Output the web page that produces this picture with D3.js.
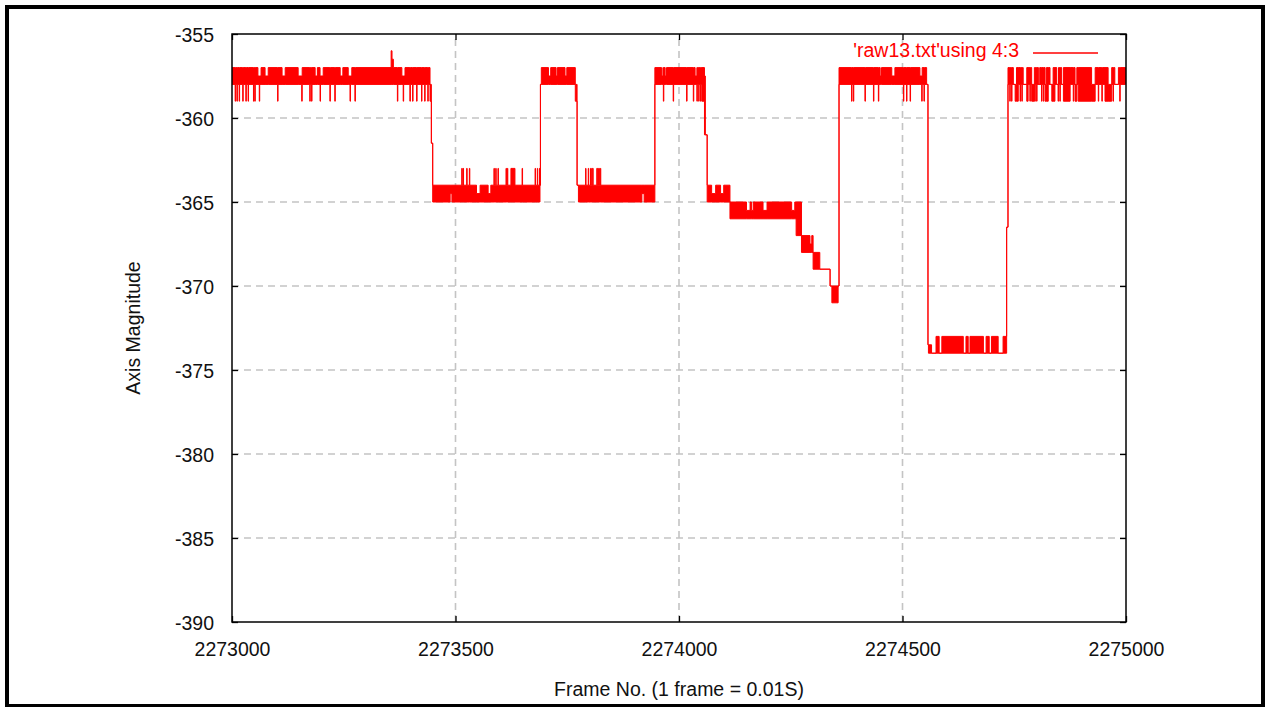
<!DOCTYPE html>
<html><head><meta charset="utf-8">
<script src="https://cdn.jsdelivr.net/npm/d3@7"></script>
<style>
body{margin:0;background:#fff}
svg text{font-family:"Liberation Sans",Arial,sans-serif}
</style>
</head><body>
<svg id="chart" width="1265" height="707"></svg>
<script>
// Trace of 'raw13.txt' using 4:3.
// Each entry: [frame, lowest value, highest value] of the trace from that frame until the next entry.
const trace = [
[2273000,-358,-357],
[2273007,-359,-357],[2273008,-358,-357],
[2273011,-359,-357],[2273012,-358,-357],
[2273016,-359,-357],[2273017,-358,-357],
[2273024,-359,-357],[2273025,-358,-357],
[2273031,-359,-357],[2273032,-358,-357],
[2273036,-359,-357],[2273037,-358,-357],
[2273048,-359,-357],[2273049,-358,-357],
[2273051,-359,-357],[2273052,-358,-357],
[2273058,-358,-357.5],[2273061,-359,-357.5],[2273062,-358,-357.5],[2273065,-358,-357],
[2273074,-358,-357.5],[2273081,-358,-357],
[2273102,-359,-357],[2273103,-358,-357],
[2273112,-358,-357.5],[2273119,-358,-357],
[2273148,-358,-357.5],[2273156,-359,-357.5],[2273157,-358,-357],
[2273174,-359,-357],[2273175,-358,-357],
[2273178,-359,-357],[2273179,-358,-357],
[2273186,-358,-357.5],[2273191,-358,-357],
[2273197,-359,-357.5],[2273198,-358,-357.5],[2273204,-358,-357],
[2273219,-359,-357],[2273220,-358,-357],
[2273230,-359,-357],[2273231,-358,-357],
[2273242,-358,-357.5],[2273248,-358,-357],
[2273260,-358,-357.5],[2273264,-359,-357.5],[2273265,-358,-357.5],[2273268,-358,-357],
[2273275,-359,-357],[2273276,-358,-357],
[2273356,-358,-356],[2273358,-358,-356.5],[2273361,-358,-357],
[2273370,-359,-357],[2273371,-358,-357],
[2273380,-358,-357.5],[2273383,-359,-357.5],[2273384,-358,-357.5],[2273387,-358,-357],
[2273398,-359,-357],[2273399,-358,-357],
[2273404,-359,-357],[2273405,-358,-357],
[2273413,-359,-357],[2273414,-358,-357],
[2273424,-359,-357],[2273425,-358,-357],
[2273431,-359,-357],[2273432,-358,-357],
[2273438,-359,-357],[2273439,-358,-357],
[2273443,-359,-358],
[2273446,-361.5,-361.5],
[2273449,-365,-364],
[2273488,-364.5,-364],[2273492,-365,-364],
[2273514,-365,-363],[2273515,-365,-364],
[2273517,-365,-363],[2273518,-365,-364],
[2273525,-365,-363],[2273526,-365,-364],
[2273531,-365,-363],[2273532,-365,-364],
[2273547,-365,-364.5],[2273555,-365,-364],
[2273573,-365,-364.5],[2273579,-365,-364],
[2273586,-365,-363],[2273587,-365,-364],
[2273590,-365,-363],[2273591,-365,-364],
[2273595,-365,-363],[2273596,-365,-364],
[2273613,-365,-363],[2273614,-365,-364],
[2273616,-365,-363],[2273617,-365,-364],
[2273624,-365,-363],[2273633,-365,-364],
[2273649,-365,-363],[2273650,-365,-364],
[2273678,-365,-363],[2273679,-365,-364],
[2273683,-365,-363],[2273684,-365,-364],
[2273688,-365,-363],
[2273689,-364,-364],
[2273690,-358,-358],
[2273692,-358,-357],
[2273708,-358,-357.5],[2273713,-358,-357],
[2273725,-358,-357.5],[2273728,-358,-357],
[2273745,-358,-357.5],[2273749,-358,-357],
[2273768,-359,-358],
[2273772,-364,-364],
[2273775,-365,-364],
[2273791,-365,-363],[2273792,-365,-364],
[2273797,-365,-363],[2273798,-365,-364],
[2273802,-365,-363],[2273804,-365,-364],[2273806,-365,-363],[2273808,-365,-364],
[2273816,-365,-363],[2273818,-365,-364],[2273820,-365,-363],[2273822,-365,-364],[2273824,-365,-363],[2273825,-365,-364],
[2273917,-364.5,-364],[2273922,-365,-364],
[2273946,-358,-357],
[2273961,-358,-357.5],[2273964,-358,-357],[2273965,-359,-357],[2273966,-358,-357],[2273969,-358,-357.5],[2273972,-358,-357],
[2273987,-359,-357],[2273988,-358,-357],
[2274017,-359,-357],[2274018,-358,-357],
[2274032,-359,-357],[2274033,-358,-357],
[2274036,-358,-357.5],[2274040,-359,-357],[2274041,-358,-357],
[2274044,-359,-357],[2274045,-358,-357],
[2274048,-359,-357],[2274049,-358,-357],
[2274051,-359,-357],
[2274057,-361,-357.5],
[2274059,-361,-361],
[2274063,-365,-364],
[2274073,-365,-364.5],[2274082,-365,-364],
[2274093,-365,-364.5],[2274100,-365,-364],
[2274114,-366,-365],
[2274151,-366,-365.5],[2274159,-366,-365],[2274162,-366,-365.5],[2274166,-366,-365],
[2274188,-366,-365.5],[2274197,-366,-365],
[2274252,-366,-365.5],[2274259,-366,-365],
[2274262,-367,-365],
[2274274,-368,-367],[2274293,-368,-367.5],[2274297,-368,-367],
[2274300,-369,-368],
[2274315,-369,-369],
[2274338,-370,-370],
[2274342,-371,-370],
[2274356,-370,-370],
[2274358,-358,-357],
[2274386,-359,-357],[2274387,-358,-357],
[2274390,-359,-357],[2274391,-358,-357],
[2274416,-359,-357],[2274417,-358,-357],
[2274435,-359,-357],[2274436,-358,-357],
[2274446,-359,-357],[2274447,-358,-357],
[2274450,-358,-357.5],[2274453,-358,-357],
[2274476,-358,-357.5],[2274483,-358,-357],
[2274502,-359,-357],[2274503,-358,-357],
[2274509,-359,-357],[2274510,-358,-357],
[2274517,-359,-357],[2274518,-358,-357],
[2274539,-358,-357.5],[2274543,-359,-357.5],[2274544,-358,-357],
[2274548,-359,-357],[2274549,-358,-357],
[2274554,-358,-358],
[2274557,-373.5,-373.5],
[2274558,-374,-373.5],
[2274565,-374,-374],
[2274575,-374,-373],
[2274582,-374,-374],
[2274588,-374,-373],
[2274636,-374,-374],
[2274642,-374,-373],
[2274647,-374,-374],
[2274651,-374,-373],
[2274681,-374,-374],
[2274687,-374,-373],
[2274694,-374,-374],
[2274699,-374,-373],
[2274714,-374,-374],
[2274725,-374,-373],
[2274733,-366.5,-366.5],
[2274736,-358,-357],
[2274740,-359,-357],[2274741,-358,-357],
[2274744,-359,-357],[2274745,-358,-357],
[2274748,-358,-358],
[2274752,-359,-358],
[2274755,-359,-357],
[2274759,-358,-357],
[2274763,-359,-357],[2274764,-358,-357],
[2274767,-359,-357],[2274768,-358,-357],
[2274770,-358,-358],
[2274778,-359,-357],
[2274781,-358,-357],
[2274785,-359,-357],[2274786,-358,-357],
[2274789,-359,-358],
[2274795,-358,-357],
[2274796,-359,-357],[2274797,-358,-357],
[2274800,-359,-357],[2274801,-358,-357],
[2274804,-358,-358],
[2274807,-358,-357],
[2274811,-359,-357],[2274812,-358,-357],
[2274815,-359,-357],[2274816,-358,-357],
[2274819,-359,-358],
[2274822,-359,-357],
[2274826,-358,-357],
[2274830,-358,-358],
[2274834,-359,-358],
[2274837,-359,-357],
[2274841,-358,-357],
[2274845,-358,-358],
[2274848,-359,-358],[2274849,-358,-357],
[2274852,-359,-357],[2274853,-358,-357],
[2274856,-358,-358],
[2274860,-359,-357],
[2274875,-358,-357],
[2274882,-359,-357],[2274883,-358,-357],
[2274886,-359,-358],
[2274890,-358,-357],
[2274893,-359,-357],
[2274923,-359,-358],
[2274931,-358,-357],
[2274938,-359,-357],[2274939,-358,-357],
[2274946,-359,-357],[2274947,-358,-357],
[2274953,-359,-357],
[2274960,-359,-358],
[2274968,-358,-357],
[2274971,-359,-357],[2274972,-358,-357],
[2274975,-358,-358],
[2274983,-358,-357],
[2274986,-359,-357],[2274987,-358,-357],
[2274999,-358,-357]
];

const yTicks = [-355,-360,-365,-370,-375,-380,-385,-390];
const xTicks = [2273000,2273500,2274000,2274500,2275000];
const xDomain = [2273000,2275000];
const yDomain = [-390,-355];
const yTitle = "Axis Magnitude";
const xTitle = "Frame No. (1 frame = 0.01S)";
const legendLabel = "'raw13.txt'using 4:3";

const W = 1265, H = 707;
const plot = {left:232, top:34, right:1126, bottom:622};
const red = "#ff0000";
const fontSize = "19.5px";
const plainNumber = d => String(d);   // ASCII hyphen-minus, as in the original

const svg = d3.select("#chart");
svg.append("rect").attr("x",0).attr("y",0).attr("width",W).attr("height",H).attr("fill","#fff");
// outer frame
svg.append("rect").attr("x",7).attr("y",7).attr("width",1256).attr("height",699)
  .attr("fill","#fff").attr("stroke","#000").attr("stroke-width",4);

const x = d3.scaleLinear().domain(xDomain).range([plot.left, plot.right]);
const y = d3.scaleLinear().domain(yDomain).range([plot.bottom, plot.top]);
const pw = plot.right - plot.left, ph = plot.bottom - plot.top;

// grid
const grid = svg.append("g").attr("stroke","#c4c4c4").attr("stroke-width",1.6).attr("stroke-dasharray","7,5");
grid.selectAll("line.h").data(yTicks.filter(v => v !== yDomain[0] && v !== yDomain[1])).enter()
  .append("line").attr("x1",plot.left).attr("x2",plot.right).attr("y1",d=>y(d)).attr("y2",d=>y(d));
grid.selectAll("line.v").data(xTicks.filter(v => v !== xDomain[0] && v !== xDomain[1])).enter()
  .append("line").attr("y1",plot.bottom).attr("y2",plot.top).attr("x1",d=>x(d)).attr("x2",d=>x(d));

// axes
function styleAxis(g, showText){
  g.select(".domain").remove();
  g.selectAll(".tick line").attr("stroke","#000").attr("stroke-width",1.3);
  g.selectAll(".tick text").attr("fill","#111").style("font-size",fontSize)
   .style("display", showText ? null : "none");
}
svg.append("g").attr("transform",`translate(${plot.left},0)`)
  .call(d3.axisLeft(y).tickValues(yTicks).tickSize(-6).tickPadding(18).tickFormat(plainNumber))
  .call(g => { styleAxis(g,true); g.selectAll(".tick text").attr("dy","0.37em"); });
svg.append("g").attr("transform",`translate(${plot.right},0)`)
  .call(d3.axisRight(y).tickValues(yTicks).tickSize(-6))
  .call(g => styleAxis(g,false));
svg.append("g").attr("transform",`translate(0,${plot.bottom})`)
  .call(d3.axisBottom(x).tickValues(xTicks).tickSize(-6).tickPadding(20).tickFormat(plainNumber))
  .call(g => styleAxis(g,true));
svg.append("g").attr("transform",`translate(0,${plot.top})`)
  .call(d3.axisTop(x).tickValues(xTicks).tickSize(-6))
  .call(g => styleAxis(g,false));

// data
svg.append("clipPath").attr("id","clip").append("rect")
  .attr("x",plot.left).attr("y",plot.top).attr("width",pw).attr("height",ph);
const band = d3.area().curve(d3.curveStepAfter)
  .x(d => x(d[0])).y0(d => y(d[1])).y1(d => y(d[2]));
svg.append("path").datum(trace).attr("clip-path","url(#clip)")
  .attr("d", band).attr("fill", red).attr("stroke", red).attr("stroke-width", 1)
  .attr("stroke-linejoin","miter");

// border
svg.append("rect").attr("x",plot.left).attr("y",plot.top).attr("width",pw).attr("height",ph)
  .attr("fill","none").attr("stroke","#000").attr("stroke-width",1.5);

// legend
svg.append("text").attr("x",1019).attr("y",57).attr("text-anchor","end")
  .attr("fill",red).style("font-size",fontSize).text(legendLabel);
svg.append("line").attr("x1",1033).attr("x2",1098).attr("y1",53).attr("y2",53)
  .attr("stroke",red).attr("stroke-width",1.5);

// titles
svg.append("text").attr("transform",`translate(140,${(plot.top+plot.bottom)/2}) rotate(-90)`)
  .attr("text-anchor","middle").attr("fill","#111").style("font-size",fontSize).text(yTitle);
svg.append("text").attr("x",(plot.left+plot.right)/2).attr("y",696)
  .attr("text-anchor","middle").attr("fill","#111").style("font-size",fontSize).text(xTitle);
</script>
</body></html>
